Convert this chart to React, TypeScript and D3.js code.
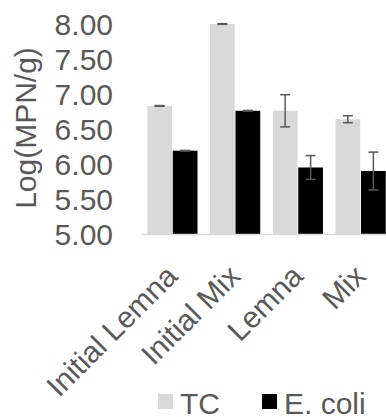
import React, { useRef, useEffect } from "react";
import * as d3 from "d3";

const categories = ["Initial Lemna", "Initial Mix", "Lemna", "Mix"];
const seriesNames = ["TC", "E. coli"];
const tcValues = [6.83, 8.0, 6.76, 6.64];
const tcErrors = [0.005, 0.005, 0.23, 0.05];
const ecoliValues = [6.19, 6.76, 5.95, 5.9];
const ecoliErrors = [0.005, 0.005, 0.17, 0.27];
const yTicks = [5.0, 5.5, 6.0, 6.5, 7.0, 7.5, 8.0];
const colors = ["#d9d9d9", "#000000"];

const W = 386;
const H = 417;
const FONT = "'Liberation Sans', Arial, sans-serif";
const TEXT = "#595959";

const App = () => {
  const ref = useRef(null);

  useEffect(() => {
    const svg = d3.select(ref.current);
    svg.selectAll("*").remove();

    const plot = { left: 141, right: 392, top: 24, bottom: 234 };

    const x = d3
      .scaleBand()
      .domain(categories)
      .range([plot.left, plot.right])
      .paddingInner(0.2)
      .paddingOuter(0.1);
    const xs = d3
      .scaleBand()
      .domain(seriesNames)
      .range([0, x.bandwidth()])
      .paddingInner(0.03);
    const y = d3.scaleLinear().domain([5, 8]).range([plot.bottom, plot.top]);

    const rows = categories.map((c, i) => ({
      cat: c,
      items: [
        { s: "TC", v: tcValues[i], e: tcErrors[i] },
        { s: "E. coli", v: ecoliValues[i], e: ecoliErrors[i] },
      ],
    }));

    // y tick labels
    svg
      .append("g")
      .selectAll("text")
      .data(yTicks)
      .enter()
      .append("text")
      .attr("x", 113)
      .attr("y", (d) => y(d))
      .attr("dy", "0.36em")
      .attr("text-anchor", "end")
      .attr("font-family", FONT)
      .attr("font-size", 30)
      .attr("fill", TEXT)
      .text((d) => d3.format(".2f")(d));

    svg
      .append("text")
      .attr("transform", `translate(36,128) rotate(-90)`)
      .attr("text-anchor", "middle")
      .attr("font-family", FONT)
      .attr("font-size", 30)
      .attr("fill", TEXT)
      .text("Log(MPN/g)");

    // bars
    const groups = svg
      .append("g")
      .selectAll("g")
      .data(rows)
      .enter()
      .append("g")
      .attr("transform", (d) => `translate(${x(d.cat)},0)`);

    groups
      .selectAll("rect")
      .data((d) => d.items)
      .enter()
      .append("rect")
      .attr("x", (d) => xs(d.s))
      .attr("y", (d) => y(d.v))
      .attr("width", xs.bandwidth())
      .attr("height", (d) => y(5) - y(d.v))
      .attr("fill", (d, i) => colors[i]);

    // error bars
    const eb = groups
      .selectAll("g.err")
      .data((d) => d.items)
      .enter()
      .append("g")
      .attr("class", "err")
      .attr("stroke", "#595959")
      .attr("stroke-width", 1.5);
    const cx = (d) => xs(d.s) + xs.bandwidth() / 2;
    eb.append("line")
      .attr("x1", cx)
      .attr("x2", cx)
      .attr("y1", (d) => y(d.v + d.e))
      .attr("y2", (d) => y(d.v - d.e));
    eb.append("line")
      .attr("x1", (d) => cx(d) - 5)
      .attr("x2", (d) => cx(d) + 5)
      .attr("y1", (d) => y(d.v + d.e))
      .attr("y2", (d) => y(d.v + d.e));
    eb.append("line")
      .attr("x1", (d) => cx(d) - 5)
      .attr("x2", (d) => cx(d) + 5)
      .attr("y1", (d) => y(d.v - d.e))
      .attr("y2", (d) => y(d.v - d.e));

    // axis line
    svg
      .append("line")
      .attr("x1", 142)
      .attr("x2", plot.right)
      .attr("y1", y(5) + 0.5)
      .attr("y2", y(5) + 0.5)
      .attr("stroke", "#d9d9d9")
      .attr("stroke-width", 1.5);

    // category labels
    svg
      .append("g")
      .selectAll("text")
      .data(categories)
      .enter()
      .append("text")
      .attr(
        "transform",
        (d) => `translate(${x(d) + x.bandwidth() / 2 + 7},278) rotate(-45)`
      )
      .attr("text-anchor", "end")
      .attr("font-family", FONT)
      .attr("font-size", 30)
      .attr("fill", TEXT)
      .text((d) => d);

    // legend
    const legendX = [158, 262];
    const lg = svg
      .append("g")
      .selectAll("g")
      .data(seriesNames)
      .enter()
      .append("g")
      .attr("transform", (d, i) => `translate(${legendX[i]},394)`);
    lg.append("rect")
      .attr("width", 15)
      .attr("height", 15)
      .attr("fill", (d, i) => colors[i]);
    lg.append("text")
      .attr("x", 22)
      .attr("y", 19.5)
      .attr("font-family", FONT)
      .attr("font-size", 30)
      .attr("fill", TEXT)
      .text((d) => d);
  }, []);

  return (
    <svg
      ref={ref}
      width={W}
      height={H}
      style={{ position: "absolute", left: 0, top: 0, background: "#fff" }}
    />
  );
};

export default App;
